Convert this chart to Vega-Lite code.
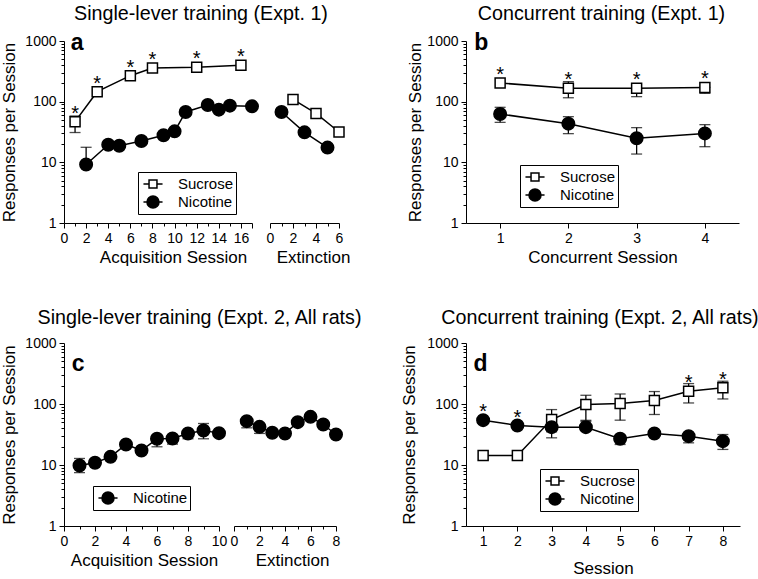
{
"$schema": "https://vega.github.io/schema/vega-lite/v6.json",
"padding": {"left": 0, "top": 3, "right": 0, "bottom": 0},
"config": {
  "font": "Liberation Sans",
  "view": {"stroke": null},
  "axis": {"domainColor": "black", "tickColor": "black", "labelColor": "black", "titleColor": "black", "labelFontSize": 14, "titleFontSize": 17, "titleFontWeight": "normal", "grid": false, "labelPadding": 3, "titlePadding": 4, "labelOverlap": false, "labelFlush": false, "domainWidth": 1, "tickWidth": 1},
  "title": {"fontSize": 19.7, "fontWeight": "normal", "color": "black", "anchor": "middle", "frame": "group", "offset": 8},
  "legend": {"labelFontSize": 15, "labelColor": "black", "strokeColor": "black", "fillColor": "white", "padding": 2, "symbolOffset": 3, "rowPadding": -6, "labelOffset": 15, "symbolSize": 324, "symbolStrokeWidth": 1.5, "symbolOpacity": 1, "cornerRadius": 0, "title": null, "orient": "none"}
},
"datasets": {
  "rows": [
    {"panel":"a","phase":"acq","series":"Sucrose","session":1,"mean":46.8,"lo":31,"hi":58,"star":true},
    {"panel":"a","phase":"acq","series":"Sucrose","session":3,"mean":146,"lo":null,"hi":null,"star":true},
    {"panel":"a","phase":"acq","series":"Sucrose","session":6,"mean":268,"lo":null,"hi":null,"star":true},
    {"panel":"a","phase":"acq","series":"Sucrose","session":8,"mean":359,"lo":null,"hi":null,"star":true},
    {"panel":"a","phase":"acq","series":"Sucrose","session":12,"mean":368,"lo":null,"hi":null,"star":true},
    {"panel":"a","phase":"acq","series":"Sucrose","session":16,"mean":397,"lo":null,"hi":null,"star":true},
    {"panel":"a","phase":"acq","series":"Nicotine","session":2,"mean":9.2,"lo":9.2,"hi":17.7,"star":false},
    {"panel":"a","phase":"acq","series":"Nicotine","session":4,"mean":19.5,"lo":null,"hi":null,"star":false},
    {"panel":"a","phase":"acq","series":"Nicotine","session":5,"mean":18.8,"lo":null,"hi":null,"star":false},
    {"panel":"a","phase":"acq","series":"Nicotine","session":7,"mean":22.5,"lo":null,"hi":null,"star":false},
    {"panel":"a","phase":"acq","series":"Nicotine","session":9,"mean":27.9,"lo":null,"hi":null,"star":false},
    {"panel":"a","phase":"acq","series":"Nicotine","session":10,"mean":32.4,"lo":null,"hi":null,"star":false},
    {"panel":"a","phase":"acq","series":"Nicotine","session":11,"mean":67.6,"lo":null,"hi":null,"star":false},
    {"panel":"a","phase":"acq","series":"Nicotine","session":13,"mean":88,"lo":null,"hi":null,"star":false},
    {"panel":"a","phase":"acq","series":"Nicotine","session":14,"mean":73.8,"lo":null,"hi":null,"star":false},
    {"panel":"a","phase":"acq","series":"Nicotine","session":15,"mean":86,"lo":null,"hi":null,"star":false},
    {"panel":"a","phase":"acq","series":"Nicotine","session":17,"mean":83.8,"lo":null,"hi":null,"star":false},
    {"panel":"a","phase":"ext","series":"Sucrose","session":2,"mean":109,"lo":null,"hi":null,"star":false},
    {"panel":"a","phase":"ext","series":"Sucrose","session":4,"mean":64,"lo":null,"hi":null,"star":false},
    {"panel":"a","phase":"ext","series":"Sucrose","session":6,"mean":31.6,"lo":null,"hi":null,"star":false},
    {"panel":"a","phase":"ext","series":"Nicotine","session":1,"mean":67.6,"lo":null,"hi":null,"star":false},
    {"panel":"a","phase":"ext","series":"Nicotine","session":3,"mean":31.2,"lo":null,"hi":null,"star":false},
    {"panel":"a","phase":"ext","series":"Nicotine","session":5,"mean":17.5,"lo":null,"hi":null,"star":false},
    {"panel":"b","phase":"conc","series":"Sucrose","session":1,"mean":203,"lo":null,"hi":null,"star":true},
    {"panel":"b","phase":"conc","series":"Sucrose","session":2,"mean":166,"lo":116,"hi":214,"star":true},
    {"panel":"b","phase":"conc","series":"Sucrose","session":3,"mean":166,"lo":121,"hi":166,"star":true},
    {"panel":"b","phase":"conc","series":"Sucrose","session":4,"mean":172,"lo":137,"hi":172,"star":true},
    {"panel":"b","phase":"conc","series":"Nicotine","session":1,"mean":62.6,"lo":45.6,"hi":80.7,"star":false},
    {"panel":"b","phase":"conc","series":"Nicotine","session":2,"mean":43.4,"lo":29.7,"hi":56.6,"star":false},
    {"panel":"b","phase":"conc","series":"Nicotine","session":3,"mean":24.9,"lo":13.7,"hi":37.3,"star":false},
    {"panel":"b","phase":"conc","series":"Nicotine","session":4,"mean":30,"lo":18.1,"hi":41.8,"star":false},
    {"panel":"c","phase":"acq","series":"Nicotine","session":1,"mean":9.8,"lo":7.5,"hi":12.8,"star":false},
    {"panel":"c","phase":"acq","series":"Nicotine","session":2,"mean":10.9,"lo":null,"hi":null,"star":false},
    {"panel":"c","phase":"acq","series":"Nicotine","session":3,"mean":13.6,"lo":null,"hi":null,"star":false},
    {"panel":"c","phase":"acq","series":"Nicotine","session":4,"mean":21.7,"lo":null,"hi":null,"star":false},
    {"panel":"c","phase":"acq","series":"Nicotine","session":5,"mean":17.3,"lo":null,"hi":null,"star":false},
    {"panel":"c","phase":"acq","series":"Nicotine","session":6,"mean":26.9,"lo":19.9,"hi":26.9,"star":false},
    {"panel":"c","phase":"acq","series":"Nicotine","session":7,"mean":27.2,"lo":22,"hi":27.2,"star":false},
    {"panel":"c","phase":"acq","series":"Nicotine","session":8,"mean":32.9,"lo":26.9,"hi":32.9,"star":false},
    {"panel":"c","phase":"acq","series":"Nicotine","session":9,"mean":36.8,"lo":26.9,"hi":47.9,"star":false},
    {"panel":"c","phase":"acq","series":"Nicotine","session":10,"mean":33.3,"lo":null,"hi":null,"star":false},
    {"panel":"c","phase":"ext","series":"Nicotine","session":1,"mean":52.3,"lo":40.7,"hi":52.3,"star":false},
    {"panel":"c","phase":"ext","series":"Nicotine","session":2,"mean":42.2,"lo":32.9,"hi":42.2,"star":false},
    {"panel":"c","phase":"ext","series":"Nicotine","session":3,"mean":33.7,"lo":null,"hi":null,"star":false},
    {"panel":"c","phase":"ext","series":"Nicotine","session":4,"mean":32.9,"lo":null,"hi":null,"star":false},
    {"panel":"c","phase":"ext","series":"Nicotine","session":5,"mean":50.4,"lo":null,"hi":null,"star":false},
    {"panel":"c","phase":"ext","series":"Nicotine","session":6,"mean":61.6,"lo":null,"hi":null,"star":false},
    {"panel":"c","phase":"ext","series":"Nicotine","session":7,"mean":46.1,"lo":null,"hi":null,"star":false},
    {"panel":"c","phase":"ext","series":"Nicotine","session":8,"mean":31.6,"lo":null,"hi":null,"star":false},
    {"panel":"d","phase":"conc","series":"Sucrose","session":1,"mean":14.3,"lo":null,"hi":null,"star":false},
    {"panel":"d","phase":"conc","series":"Sucrose","session":2,"mean":14.3,"lo":null,"hi":null,"star":false},
    {"panel":"d","phase":"conc","series":"Sucrose","session":3,"mean":55.7,"lo":27.9,"hi":81,"star":false},
    {"panel":"d","phase":"conc","series":"Sucrose","session":4,"mean":98,"lo":54,"hi":139,"star":false},
    {"panel":"d","phase":"conc","series":"Sucrose","session":5,"mean":102,"lo":54.3,"hi":146,"star":false},
    {"panel":"d","phase":"conc","series":"Sucrose","session":6,"mean":114,"lo":67.3,"hi":160,"star":false},
    {"panel":"d","phase":"conc","series":"Sucrose","session":7,"mean":162,"lo":104,"hi":216,"star":true},
    {"panel":"d","phase":"conc","series":"Sucrose","session":8,"mean":184,"lo":121,"hi":236,"star":true},
    {"panel":"d","phase":"conc","series":"Nicotine","session":1,"mean":54.3,"lo":null,"hi":null,"star":true},
    {"panel":"d","phase":"conc","series":"Nicotine","session":2,"mean":44.4,"lo":null,"hi":null,"star":true},
    {"panel":"d","phase":"conc","series":"Nicotine","session":3,"mean":41.7,"lo":35,"hi":41.7,"star":false},
    {"panel":"d","phase":"conc","series":"Nicotine","session":4,"mean":41.7,"lo":41.7,"hi":52,"star":false},
    {"panel":"d","phase":"conc","series":"Nicotine","session":5,"mean":26.9,"lo":21.7,"hi":26.9,"star":false},
    {"panel":"d","phase":"conc","series":"Nicotine","session":6,"mean":32.9,"lo":null,"hi":null,"star":false},
    {"panel":"d","phase":"conc","series":"Nicotine","session":7,"mean":29.7,"lo":23.1,"hi":29.7,"star":false},
    {"panel":"d","phase":"conc","series":"Nicotine","session":8,"mean":24.6,"lo":18,"hi":31.6,"star":false}
  ]
},
"spacing": 43,
"resolve": {"scale": {"shape": "independent", "fill": "independent"}, "legend": {"shape": "independent", "fill": "independent"}},
"vconcat": [
 {
  "hconcat": [
   {
    "width": 188, "height": 182,
    "title": {"text": "Single-lever training (Expt. 1)", "dx": 43},
    "data": {"name": "rows"},
    "transform": [{"filter": "datum.panel=='a' && datum.phase=='acq'"}],
    "encoding": {
      "x": {"field": "session", "type": "quantitative", "scale": {"domain": [0, 17], "nice": false, "zero": false},
        "axis": {"title": "Acquisition Session", "values": [0,1,2,3,4,5,6,7,8,9,10,11,12,13,14,15,16,17], "labelExpr": "datum.value % 2 == 0 && datum.value < 17 ? '' + datum.value : ''", "tickSize": {"condition": {"test": "datum.value % 2 == 0 || datum.value == 17", "value": 5}, "value": 3}, "titleX": 109}},
      "y": {"field": "mean", "type": "quantitative", "scale": {"type": "log", "domain": [1, 1000], "nice": false},
        "axis": {"title": "Responses per Session", "values": [1,2,3,4,5,6,7,8,9,10,20,30,40,50,60,70,80,90,100,200,300,400,500,600,700,800,900,1000], "labelExpr": "datum.value==1||datum.value==10||datum.value==100||datum.value==1000 ? '' + datum.value : ''", "tickSize": {"condition": {"test": "datum.value==1||datum.value==10||datum.value==100||datum.value==1000", "value": 5}, "value": 3}, "titlePadding": 6}}
    },
    "resolve": {"scale": {"shape": "independent", "fill": "independent"}},
    "layer": [
      {"transform": [{"filter": "isValid(datum.lo)"}], "mark": {"type": "errorbar", "ticks": {"size": 11}, "color": "black", "thickness": 1.3},
       "encoding": {"y": {"field": "lo", "type": "quantitative", "scale": {"type": "log", "domain": [1, 1000], "nice": false}}, "y2": {"field": "hi"}}},
      {"mark": {"type": "line", "color": "black", "strokeWidth": 1.5}, "encoding": {"detail": {"field": "series"}}},
      {"mark": {"type": "point", "filled": true, "opacity": 1, "stroke": "black", "strokeWidth": 1.5},
       "encoding": {
         "shape": {"field": "series", "type": "nominal", "scale": {"domain": ["Sucrose", "Nicotine"], "range": ["square", "circle"]}, "legend": null},
         "fill": {"field": "series", "type": "nominal", "scale": {"domain": ["Sucrose", "Nicotine"], "range": ["white", "black"]}, "legend": null},
         "size": {"condition": {"test": "datum.series=='Sucrose'", "value": 100}, "value": 156}
       }},
      {"transform": [{"filter": "datum.mean < 0"}], "mark": {"type": "point", "filled": true, "opacity": 1, "stroke": "black", "strokeWidth": 1.5},
       "encoding": {
         "shape": {"field": "series", "type": "nominal", "scale": {"domain": ["Sucrose", "Nicotine"], "range": ["M-1.06,0H-0.44M0.44,0H1.06M-0.44,-0.44H0.44V0.44H-0.44Z", "M-1.06,0H1.06M-0.67,0A0.67,0.67,0,1,0,0.67,0A0.67,0.67,0,1,0,-0.67,0Z"]}, "legend": {"legendX": 74, "legendY": 131}},
         "fill": {"field": "series", "type": "nominal", "scale": {"domain": ["Sucrose", "Nicotine"], "range": ["white", "black"]}, "legend": {"legendX": 74, "legendY": 131}}
       }},
      {"transform": [{"filter": "datum.star"}], "mark": {"type": "text", "text": "*", "fontSize": 20, "dy": -2, "baseline": "alphabetic", "align": "center", "color": "black"}},
      {"transform": [{"filter": "datum.series=='Sucrose' && datum.session==1"}], "mark": {"type": "text", "text": "a", "fontSize": 23, "fontWeight": "bold", "align": "left", "baseline": "alphabetic", "color": "black"},
       "encoding": {"x": {"datum": 0.6, "type": "quantitative"}, "y": {"datum": 720, "type": "quantitative"}}}
    ]
   },
   {
    "width": 69, "height": 182,
    "data": {"name": "rows"},
    "transform": [{"filter": "datum.panel=='a' && datum.phase=='ext'"}],
    "encoding": {
      "x": {"field": "session", "type": "quantitative", "scale": {"domain": [0, 6], "nice": false, "zero": false},
        "axis": {"title": "Extinction", "values": [0,1,2,3,4,5,6], "labelExpr": "datum.value % 2 == 0 ? '' + datum.value : ''", "tickSize": {"condition": {"test": "datum.value % 2 == 0", "value": 5}, "value": 3}, "titleX": 43}},
      "y": {"field": "mean", "type": "quantitative", "scale": {"type": "log", "domain": [1, 1000], "nice": false}, "axis": null}
    },
    "layer": [
      {"mark": {"type": "line", "color": "black", "strokeWidth": 1.5}, "encoding": {"detail": {"field": "series"}}},
      {"mark": {"type": "point", "filled": true, "opacity": 1, "stroke": "black", "strokeWidth": 1.5},
       "encoding": {
         "shape": {"field": "series", "type": "nominal", "scale": {"domain": ["Sucrose", "Nicotine"], "range": ["square", "circle"]}, "legend": null},
         "fill": {"field": "series", "type": "nominal", "scale": {"domain": ["Sucrose", "Nicotine"], "range": ["white", "black"]}, "legend": null},
         "size": {"condition": {"test": "datum.series=='Sucrose'", "value": 100}, "value": 156}
       }}
    ]
   },
   {"width": 91, "height": 182, "data": {"values": []}, "mark": "point"},
   {
    "width": 273, "height": 182,
    "title": {"text": "Concurrent training (Expt. 1)", "dx": -1},
    "data": {"name": "rows"},
    "transform": [{"filter": "datum.panel=='b'"}],
    "encoding": {
      "x": {"field": "session", "type": "quantitative", "scale": {"domain": [0.5, 4.5], "nice": false, "zero": false},
        "axis": {"title": "Concurrent Session", "values": [1,2,3,4], "tickSize": 5}},
      "y": {"field": "mean", "type": "quantitative", "scale": {"type": "log", "domain": [1, 1000], "nice": false},
        "axis": {"title": "Responses per Session", "values": [1,2,3,4,5,6,7,8,9,10,20,30,40,50,60,70,80,90,100,200,300,400,500,600,700,800,900,1000], "labelExpr": "datum.value==1||datum.value==10||datum.value==100||datum.value==1000 ? '' + datum.value : ''", "tickSize": {"condition": {"test": "datum.value==1||datum.value==10||datum.value==100||datum.value==1000", "value": 5}, "value": 3}, "titlePadding": 2}}
    },
    "resolve": {"scale": {"shape": "independent", "fill": "independent"}},
    "layer": [
      {"transform": [{"filter": "isValid(datum.lo)"}], "mark": {"type": "errorbar", "ticks": {"size": 11}, "color": "black", "thickness": 1.3},
       "encoding": {"y": {"field": "lo", "type": "quantitative", "scale": {"type": "log", "domain": [1, 1000], "nice": false}}, "y2": {"field": "hi"}}},
      {"mark": {"type": "line", "color": "black", "strokeWidth": 1.5}, "encoding": {"detail": {"field": "series"}}},
      {"mark": {"type": "point", "filled": true, "opacity": 1, "stroke": "black", "strokeWidth": 1.5},
       "encoding": {
         "shape": {"field": "series", "type": "nominal", "scale": {"domain": ["Sucrose", "Nicotine"], "range": ["square", "circle"]}, "legend": null},
         "fill": {"field": "series", "type": "nominal", "scale": {"domain": ["Sucrose", "Nicotine"], "range": ["white", "black"]}, "legend": null},
         "size": {"condition": {"test": "datum.series=='Sucrose'", "value": 100}, "value": 156}
       }},
      {"transform": [{"filter": "datum.mean < 0"}], "mark": {"type": "point", "filled": true, "opacity": 1, "stroke": "black", "strokeWidth": 1.5},
       "encoding": {
         "shape": {"field": "series", "type": "nominal", "scale": {"domain": ["Sucrose", "Nicotine"], "range": ["M-1.06,0H-0.44M0.44,0H1.06M-0.44,-0.44H0.44V0.44H-0.44Z", "M-1.06,0H1.06M-0.67,0A0.67,0.67,0,1,0,0.67,0A0.67,0.67,0,1,0,-0.67,0Z"]}, "legend": {"legendX": 54, "legendY": 124}},
         "fill": {"field": "series", "type": "nominal", "scale": {"domain": ["Sucrose", "Nicotine"], "range": ["white", "black"]}, "legend": {"legendX": 54, "legendY": 124}}
       }},
      {"transform": [{"filter": "datum.star"}], "mark": {"type": "text", "text": "*", "fontSize": 20, "dy": -2, "baseline": "alphabetic", "align": "center", "color": "black"}},
      {"transform": [{"filter": "datum.series=='Sucrose' && datum.session==1"}], "mark": {"type": "text", "text": "b", "fontSize": 23, "fontWeight": "bold", "align": "left", "baseline": "alphabetic", "color": "black"},
       "encoding": {"x": {"datum": 0.62, "type": "quantitative"}, "y": {"datum": 720, "type": "quantitative"}}}
    ]
   }
  ],
  "spacing": 18,
  "bounds": "flush",
  "resolve": {"scale": {"shape": "independent", "fill": "independent"}, "legend": {"shape": "independent", "fill": "independent"}}
 },
 {
  "hconcat": [
   {
    "width": 155, "height": 183,
    "title": {"text": "Single-lever training (Expt. 2, All rats)", "dx": 58},
    "data": {"name": "rows"},
    "transform": [{"filter": "datum.panel=='c' && datum.phase=='acq'"}],
    "encoding": {
      "x": {"field": "session", "type": "quantitative", "scale": {"domain": [0, 10], "nice": false, "zero": false},
        "axis": {"title": "Acquisition Session", "values": [0,1,2,3,4,5,6,7,8,9,10], "labelExpr": "datum.value % 2 == 0 ? '' + datum.value : ''", "tickSize": {"condition": {"test": "datum.value % 2 == 0", "value": 5}, "value": 3}, "titleX": 80}},
      "y": {"field": "mean", "type": "quantitative", "scale": {"type": "log", "domain": [1, 1000], "nice": false},
        "axis": {"title": "Responses per Session", "values": [1,2,3,4,5,6,7,8,9,10,20,30,40,50,60,70,80,90,100,200,300,400,500,600,700,800,900,1000], "labelExpr": "datum.value==1||datum.value==10||datum.value==100||datum.value==1000 ? '' + datum.value : ''", "tickSize": {"condition": {"test": "datum.value==1||datum.value==10||datum.value==100||datum.value==1000", "value": 5}, "value": 3}, "titlePadding": 6}}
    },
    "resolve": {"scale": {"shape": "independent", "fill": "independent"}},
    "layer": [
      {"transform": [{"filter": "isValid(datum.lo)"}], "mark": {"type": "errorbar", "ticks": {"size": 11}, "color": "black", "thickness": 1.3},
       "encoding": {"y": {"field": "lo", "type": "quantitative", "scale": {"type": "log", "domain": [1, 1000], "nice": false}}, "y2": {"field": "hi"}}},
      {"mark": {"type": "line", "color": "black", "strokeWidth": 1.5}, "encoding": {"detail": {"field": "series"}}},
      {"mark": {"type": "point", "filled": true, "opacity": 1, "stroke": "black", "strokeWidth": 1.5, "fill": "black", "shape": "circle", "size": 156}},
      {"transform": [{"filter": "datum.mean < 0"}], "mark": {"type": "point", "filled": true, "opacity": 1, "stroke": "black", "strokeWidth": 1.5},
       "encoding": {
         "shape": {"field": "series", "type": "nominal", "scale": {"domain": ["Nicotine"], "range": ["M-1.06,0H1.06M-0.67,0A0.67,0.67,0,1,0,0.67,0A0.67,0.67,0,1,0,-0.67,0Z"]}, "legend": {"legendX": 29, "legendY": 143}},
         "fill": {"field": "series", "type": "nominal", "scale": {"domain": ["Nicotine"], "range": ["black"]}, "legend": {"legendX": 29, "legendY": 143}}
       }},
      {"transform": [{"filter": "datum.session==1"}], "mark": {"type": "text", "text": "c", "fontSize": 23, "fontWeight": "bold", "align": "left", "baseline": "alphabetic", "color": "black"},
       "encoding": {"x": {"datum": 0.5, "type": "quantitative"}, "y": {"datum": 344, "type": "quantitative"}}}
    ]
   },
   {
    "width": 102, "height": 183,
    "data": {"name": "rows"},
    "transform": [{"filter": "datum.panel=='c' && datum.phase=='ext'"}],
    "encoding": {
      "x": {"field": "session", "type": "quantitative", "scale": {"domain": [0, 8], "nice": false, "zero": false},
        "axis": {"title": "Extinction", "values": [0,1,2,3,4,5,6,7,8], "labelExpr": "datum.value % 2 == 0 ? '' + datum.value : ''", "tickSize": {"condition": {"test": "datum.value % 2 == 0", "value": 5}, "value": 3}, "titleX": 58}},
      "y": {"field": "mean", "type": "quantitative", "scale": {"type": "log", "domain": [1, 1000], "nice": false}, "axis": null}
    },
    "layer": [
      {"transform": [{"filter": "isValid(datum.lo)"}], "mark": {"type": "errorbar", "ticks": {"size": 11}, "color": "black", "thickness": 1.3},
       "encoding": {"y": {"field": "lo", "type": "quantitative", "scale": {"type": "log", "domain": [1, 1000], "nice": false}}, "y2": {"field": "hi"}}},
      {"mark": {"type": "line", "color": "black", "strokeWidth": 1.5}, "encoding": {"detail": {"field": "series"}}},
      {"mark": {"type": "point", "filled": true, "opacity": 1, "stroke": "black", "strokeWidth": 1.5, "fill": "black", "shape": "circle", "size": 156}}
    ]
   },
   {"width": 100, "height": 183, "data": {"values": []}, "mark": "point"},
   {
    "width": 274, "height": 183,
    "title": {"text": "Concurrent training (Expt. 2, All rats)", "dx": -3},
    "data": {"name": "rows"},
    "transform": [{"filter": "datum.panel=='d'"}],
    "encoding": {
      "x": {"field": "session", "type": "quantitative", "scale": {"domain": [0.5, 8.5], "nice": false, "zero": false},
        "axis": {"title": "Session", "values": [1,2,3,4,5,6,7,8], "tickSize": 5, "titlePadding": 12}},
      "y": {"field": "mean", "type": "quantitative", "scale": {"type": "log", "domain": [1, 1000], "nice": false},
        "axis": {"title": "Responses per Session", "values": [1,2,3,4,5,6,7,8,9,10,20,30,40,50,60,70,80,90,100,200,300,400,500,600,700,800,900,1000], "labelExpr": "datum.value==1||datum.value==10||datum.value==100||datum.value==1000 ? '' + datum.value : ''", "tickSize": {"condition": {"test": "datum.value==1||datum.value==10||datum.value==100||datum.value==1000", "value": 5}, "value": 3}, "titlePadding": 8}}
    },
    "resolve": {"scale": {"shape": "independent", "fill": "independent"}},
    "layer": [
      {"transform": [{"filter": "isValid(datum.lo)"}], "mark": {"type": "errorbar", "ticks": {"size": 11}, "color": "black", "thickness": 1.3},
       "encoding": {"y": {"field": "lo", "type": "quantitative", "scale": {"type": "log", "domain": [1, 1000], "nice": false}}, "y2": {"field": "hi"}}},
      {"mark": {"type": "line", "color": "black", "strokeWidth": 1.5}, "encoding": {"detail": {"field": "series"}}},
      {"mark": {"type": "point", "filled": true, "opacity": 1, "stroke": "black", "strokeWidth": 1.5},
       "encoding": {
         "shape": {"field": "series", "type": "nominal", "scale": {"domain": ["Sucrose", "Nicotine"], "range": ["square", "circle"]}, "legend": null},
         "fill": {"field": "series", "type": "nominal", "scale": {"domain": ["Sucrose", "Nicotine"], "range": ["white", "black"]}, "legend": null},
         "size": {"condition": {"test": "datum.series=='Sucrose'", "value": 100}, "value": 156}
       }},
      {"transform": [{"filter": "datum.mean < 0"}], "mark": {"type": "point", "filled": true, "opacity": 1, "stroke": "black", "strokeWidth": 1.5},
       "encoding": {
         "shape": {"field": "series", "type": "nominal", "scale": {"domain": ["Sucrose", "Nicotine"], "range": ["M-1.06,0H-0.44M0.44,0H1.06M-0.44,-0.44H0.44V0.44H-0.44Z", "M-1.06,0H1.06M-0.67,0A0.67,0.67,0,1,0,0.67,0A0.67,0.67,0,1,0,-0.67,0Z"]}, "legend": {"legendX": 74, "legendY": 126}},
         "fill": {"field": "series", "type": "nominal", "scale": {"domain": ["Sucrose", "Nicotine"], "range": ["white", "black"]}, "legend": {"legendX": 74, "legendY": 126}}
       }},
      {"transform": [{"filter": "datum.star"}], "mark": {"type": "text", "text": "*", "fontSize": 20, "dy": -2, "baseline": "alphabetic", "align": "center", "color": "black"}},
      {"transform": [{"filter": "datum.series=='Sucrose' && datum.session==1"}], "mark": {"type": "text", "text": "d", "fontSize": 23, "fontWeight": "bold", "align": "left", "baseline": "alphabetic", "color": "black"},
       "encoding": {"x": {"datum": 0.72, "type": "quantitative"}, "y": {"datum": 344, "type": "quantitative"}}}
    ]
   }
  ],
  "spacing": 15,
  "bounds": "flush",
  "resolve": {"scale": {"shape": "independent", "fill": "independent"}, "legend": {"shape": "independent", "fill": "independent"}}
 }
]
}
